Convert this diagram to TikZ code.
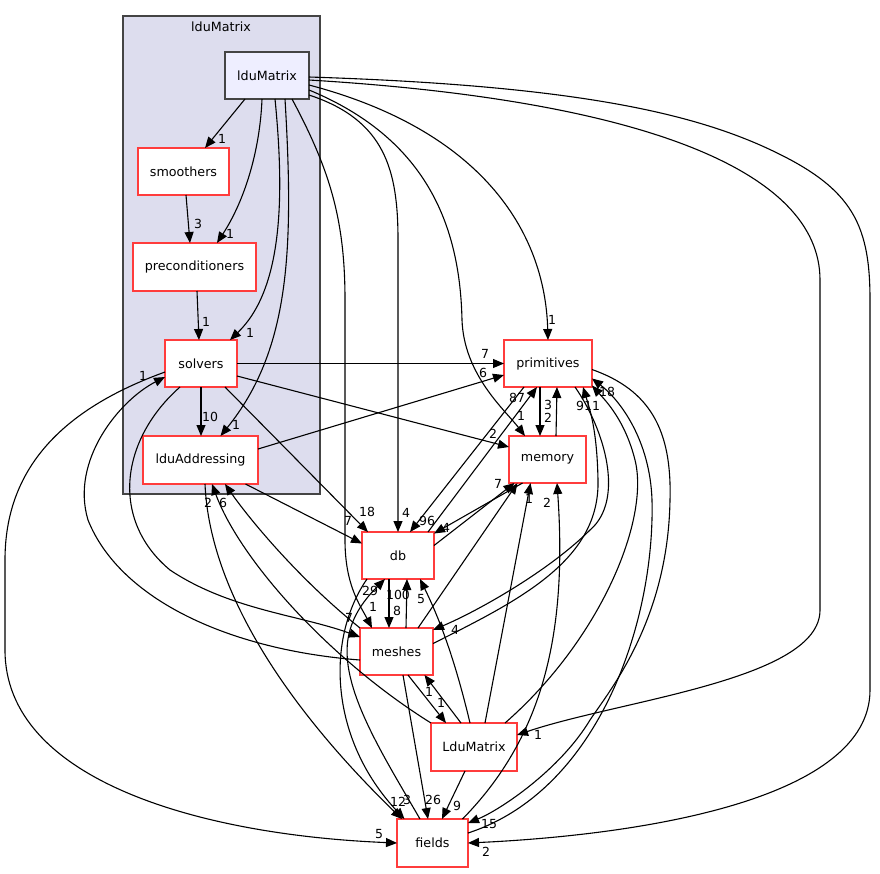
\documentclass[tikz,border=0pt]{standalone}
\usepackage{fontspec}
\setmainfont{DejaVu Sans}
\usetikzlibrary{arrows.meta,calc}
\definecolor{nodered}{RGB}{255,60,60}
\definecolor{clfill}{RGB}{221,221,238}
\definecolor{topfill}{RGB}{238,238,255}
\definecolor{dgray}{RGB}{68,68,68}
\begin{document}
\begin{tikzpicture}[x=1pt,y=-1pt,
  box/.style={draw=nodered, line width=1.3pt, fill=white, minimum width=#1, minimum height=47pt, inner sep=0pt, font=\fontsize{12.7}{15}\selectfont},
  dep/.style={draw=black, line width=1.1pt, -{Triangle[length=11pt,width=9pt]}},
  lab/.style={font=\fontsize{12.5}{14}\selectfont, inner sep=0pt}]
\fill[white] (0,0) rectangle (880,873);
\useasboundingbox (0,0) rectangle (880,873);
% cluster
\node[draw=dgray, fill=clfill, line width=1.3pt, minimum width=197pt, minimum height=478pt, inner sep=0pt] (CL) at (221.5,255) {};
\node[font=\fontsize{12.7}{15}\selectfont, inner sep=0pt] (CLt) at (221,27) {lduMatrix};
% nodes
\node[box=84pt, draw=dgray, fill=topfill] (LM) at (267,75.5) {lduMatrix};
\node[box=91pt] (SM) at (183.5,171.5) {smoothers};
\node[box=123pt, minimum height=48pt] (PC) at (194.5,267) {preconditioners};
\node[box=72pt] (SV) at (201,363.5) {solvers};
\node[box=115pt, minimum height=48pt] (LA) at (200.5,460) {lduAddressing};
\node[box=88pt] (PR) at (548,363.5) {primitives};
\node[box=77pt] (ME) at (547.5,459.5) {memory};
\node[box=72pt] (DB) at (398,555.5) {db};
\node[box=73pt] (MS) at (396.5,651.5) {meshes};
\node[box=86pt, minimum height=48pt] (LD) at (474,747) {LduMatrix};
\node[box=71pt, minimum height=48pt] (FL) at (432.5,843) {fields};
% edges from lduMatrix
\draw[dep] ($(LM)+(-22,23.5)$) -- ($(SM)+(21.5,-23.5)$);
\node[lab] (t1) at (222,139) {1};
\draw[dep] ($(LM)+(-5,23.5)$) .. controls (260,150) and (245,200) .. ($(PC)+(22.5,-24)$);
\node[lab] (t2) at (230,234) {1};
\draw[dep] ($(LM)+(8,23.5)$) .. controls (285,200) and (282,290) .. ($(SV)+(29,-23.5)$);
\node[lab] (t3) at (250,333) {1};
\draw[dep] ($(LM)+(18,23.5)$) .. controls (294,250) and (290,350) .. ($(LA)+(20,-24)$);
\node[lab] (t4) at (236,425) {1};
\draw[dep] ($(LM)+(25,23.5)$) .. controls (330,170) and (345,220) .. (345,300) -- (345,540) .. controls (345,585) and (360,605) .. ($(MS)+(-24.5,-23.5)$);
\node[lab] (t5) at (373,607) {1};
\draw[dep] ($(LM)+(42,19.5)$) .. controls (385,120) and (398,170) .. (398,240) -- ($(DB)+(0,-23.5)$);
\node[lab] (t6) at (406,513) {4};
\draw[dep] ($(LM)+(42,14.5)$) .. controls (430,140) and (460,230) .. (462,320) .. controls (464,375) and (505,410) .. ($(ME)+(-22.5,-23.5)$);
\node[lab] (t7) at (521,416) {1};
\draw[dep] ($(LM)+(42,9.5)$) .. controls (480,130) and (545,230) .. ($(PR)+(0,-23.5)$);
\node[lab] (t8) at (552,320) {1};
\draw[dep] ($(LM)+(42,4.5)$) .. controls (640,100) and (820,170) .. (820,280) -- (820,610) .. controls (820,680) and (620,700) .. ($(LD)+(43,-12)$);
\node[lab] (t9) at (538,735) {1};
\draw[dep] ($(LM)+(42,1.5)$) .. controls (560,85) and (680,110) .. (760,145) .. controls (850,185) and (870,220) .. (870,300) -- (870,690) .. controls (870,800) and (640,835) .. ($(FL)+(35.5,0)$);
\node[lab] (t10) at (486,852) {2};
% inside cluster
\draw[dep] ($(SM)+(2.5,23.5)$) -- ($(PC)+(-4.5,-24)$);
\node[lab] (t11) at (198,224) {3};
\draw[dep] ($(PC)+(2.5,24)$) -- ($(SV)+(-2,-23.5)$);
\node[lab] (t12) at (206,322) {1};
\draw[dep] ($(SV)+(0,23.5)$) -- ($(LA)+(0.5,-24)$);
\node[lab] (t13) at (210,417) {10};
% solvers
\draw[dep] ($(SV)+(36,0)$) -- ($(PR)+(-44,0)$);
\node[lab] (t14) at (485,354) {7};
\draw[dep] ($(SV)+(36,12.5)$) -- ($(ME)+(-38.5,-12.5)$);
\node[lab] (t15) at (493,434) {2};
\draw[dep] ($(SV)+(24,23.5)$) -- ($(DB)+(-30,-23.5)$);
\node[lab] (t16) at (367,512) {18};
\draw[dep] ($(SV)+(-21,23.5)$) .. controls (120,440) and (110,520) .. (170,570) .. controls (230,610) and (300,615) .. ($(MS)+(-36.5,-14.5)$);
\node[lab] (t17) at (349,618) {7};
\draw[dep] ($(SV)+(-36,8.5)$) .. controls (60,410) and (5,470) .. (5,560) -- (5,650) .. controls (5,780) and (200,835) .. ($(FL)+(-35.5,0)$);
\node[lab] (t18) at (379,834) {5};
% lduAddressing
\draw[dep] ($(LA)+(57.5,-11)$) -- ($(PR)+(-44,11.5)$);
\node[lab] (t19) at (483,373) {6};
\draw[dep] ($(LA)+(45,24)$) -- ($(DB)+(-36,-12)$);
\node[lab] (t20) at (348,521) {7};
\draw[dep] ($(LA)+(4.5,24)$) .. controls (210,600) and (300,720) .. ($(FL)+(-30.5,-24)$);
\node[lab] (t21) at (398,802) {12};
% primitives / memory / db
\draw[dep] ($(PR)+(-8,23.5)$) -- ($(ME)+(-7.5,-23.5)$);
\node[lab] (t22) at (548,418) {2};
\draw[dep] ($(ME)+(8.5,-23.5)$) -- ($(PR)+(9,23.5)$);
\node[lab] (t23) at (548,405) {3};
\draw[dep] ($(PR)+(-24,23.5)$) -- ($(DB)+(12,-23.5)$);
\node[lab] (t24) at (427,521) {96};
\draw[dep] ($(DB)+(30,-23.5)$) -- ($(PR)+(-11,23.5)$);
\node[lab] (t25) at (517,398) {87};
\draw[dep] ($(DB)+(36,-10)$) -- ($(ME)+(-33,23.5)$);
\node[lab] (t26) at (498,484) {7};
\draw[dep] ($(ME)+(-25,23.5)$) -- ($(DB)+(36,-22)$);
\node[lab] (t27) at (446,528) {4};
% db / meshes
\draw[dep] ($(DB)+(-9,23.5)$) -- ($(MS)+(-7.5,-23.5)$);
\node[lab] (t28) at (397,611) {8};
\draw[dep] ($(MS)+(9.5,-23.5)$) -- ($(DB)+(9,23.5)$);
\node[lab] (t29) at (398,595) {100};
\draw[dep] ($(LD)+(-4,-24)$) .. controls (455,660) and (440,620) .. ($(DB)+(22,23.5)$);
\node[lab] (t31) at (421,599) {5};
\draw[dep] ($(FL)+(-12.5,-24)$) .. controls (380,750) and (335,680) .. (350,630) .. controls (356,608) and (372,592) .. ($(DB)+(-13,23.5)$);
\node[lab] (t32) at (370,591) {29};
\draw[dep] ($(DB)+(-31,23.5)$) .. controls (325,640) and (330,740) .. ($(FL)+(-28,-24)$);
\node[lab] (t33) at (407,800) {3};
% meshes
\draw[dep] ($(MS)+(21.5,-23.5)$) -- ($(ME)+(-30,23.5)$);
\draw[dep] ($(PR)+(27,23.5)$) .. controls (605,430) and (625,500) .. (590,530) .. controls (550,570) and (480,610) .. ($(MS)+(36.5,-21.5)$);
\node[lab] (t35) at (455,630) {4};
\draw[dep] ($(MS)+(36.5,-8)$) .. controls (520,600) and (600,560) .. (598,480) .. controls (597,430) and (590,410) .. ($(PR)+(35,23.5)$);
\node[lab] (t36) at (584,406) {91};
\draw[dep] ($(MS)+(-36.5,8.5)$) .. controls (230,650) and (120,600) .. (88,520) .. controls (70,460) and (120,400) .. ($(SV)+(-36,13.5)$);
\node[lab] (t37) at (143,376) {1};
\draw[dep] ($(MS)+(-36.5,-23.5)$) .. controls (300,580) and (250,520) .. ($(LA)+(24.5,24)$);
\node[lab] (t38) at (223,503) {6};
\draw[dep] ($(MS)+(11.5,23.5)$) -- ($(LD)+(-28,-24)$);
\node[lab] (t39) at (441,703) {1};
\draw[dep] ($(LD)+(-13,-24)$) -- ($(MS)+(28,23.5)$);
\node[lab] (t40) at (429,692) {1};
\draw[dep] ($(MS)+(6.5,23.5)$) -- ($(FL)+(-4.5,-24)$);
\node[lab] (t41) at (433,800) {26};
% LduMatrix
\draw[dep] ($(LD)+(-43,-24)$) .. controls (330,660) and (240,560) .. ($(LA)+(11.5,24)$);
\node[lab] (t42) at (208,503) {2};
\draw[dep] ($(LD)+(11,-24)$) -- ($(ME)+(-17,23.5)$);
\node[lab] (t43) at (529,499) {1};
\draw[dep] ($(LD)+(31,-24)$) .. controls (600,640) and (650,520) .. (635,460) .. controls (625,420) and (605,400) .. ($(PR)+(44,22)$);
\node[lab] (t44) at (596,406) {1};
\draw[dep] ($(LD)+(-9,24)$) -- ($(FL)+(9.5,-24)$);
\node[lab] (t45) at (457,806) {9};
% fields
\draw[dep] ($(FL)+(35.5,-10)$) .. controls (600,790) and (655,620) .. (652,500) .. controls (650,440) and (620,400) .. ($(PR)+(44,15)$);
\node[lab] (t46) at (607,392) {18};
\draw[dep] ($(PR)+(44,6)$) .. controls (650,390) and (672,430) .. (670,500) .. controls (668,620) and (610,690) .. (590,720) .. controls (560,770) and (500,810) .. ($(FL)+(35.5,-20)$);
\node[lab] (t47) at (489,824) {15};
\draw[dep] ($(FL)+(30,-24)$) .. controls (540,740) and (568,640) .. ($(ME)+(9.5,23.5)$);
\node[lab] (t48) at (547,503) {2};
\end{tikzpicture}
\end{document}
